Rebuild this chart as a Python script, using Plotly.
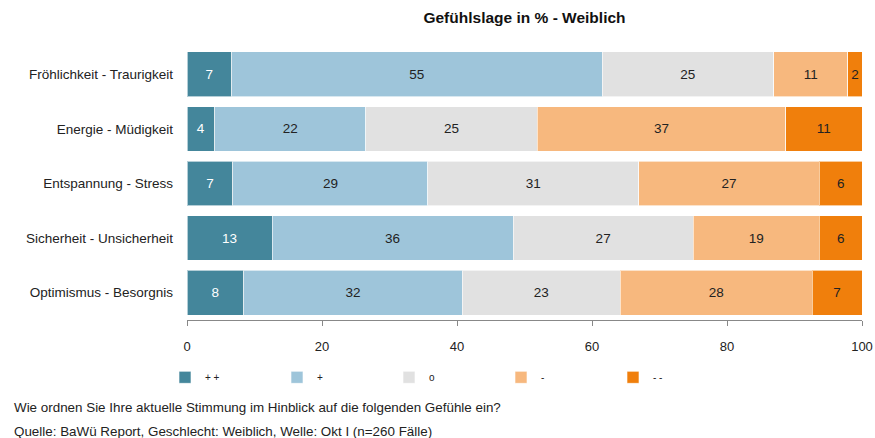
import plotly.graph_objects as go

categories = ["Fröhlichkeit - Traurigkeit", "Energie - Müdigkeit", "Entspannung - Stress",
              "Sicherheit - Unsicherheit", "Optimismus - Besorgnis"]
series_names = ["+ +", "+", "o", "-", "- -"]
v_pp = [6.6, 4.1, 6.8, 12.6, 8.4]
v_p = [54.9, 22.4, 28.9, 35.7, 32.4]
v_o = [25.4, 25.4, 31.2, 26.7, 23.4]
v_m = [11.0, 36.8, 26.8, 18.7, 28.4]
v_mm = [2.1, 11.3, 6.3, 6.3, 7.4]
tick_vals = [0, 20, 40, 60, 80, 100]

colors = ["#44869b", "#9ec5da", "#e1e1e1", "#f7b87e", "#f07f0c"]
text_colors = ["white", "#222222", "#222222", "#222222", "#222222"]

fig = go.Figure()
for name, vals, col, tc in zip(series_names, [v_pp, v_p, v_o, v_m, v_mm], colors, text_colors):
    fig.add_trace(go.Bar(
        y=categories, x=vals, name=name, orientation="h",
        marker=dict(color=col, line=dict(color="rgba(255,255,255,0.6)", width=1)),
        text=[f"{v:.0f}" for v in vals], textposition="inside", insidetextanchor="middle",
        textfont=dict(color=tc, size=13.5, family="Liberation Sans, Arial, sans-serif"),
        hoverinfo="x+y+name",
    ))

fig.update_layout(
    barmode="stack",
    width=875, height=438,
    margin=dict(l=187, r=13, t=47, b=118, autoexpand=False),
    plot_bgcolor="white", paper_bgcolor="white",
    font=dict(family="Liberation Sans, Arial, sans-serif", size=13, color="#222222"),
    bargap=0.18,
    title=dict(text="<b>Gefühlslage in % - Weiblich</b>", x=0.5, xref="paper", xanchor="center",
               y=1 - 18 / 438, yref="container", yanchor="middle",
               font=dict(size=15.5, color="#111111")),
    xaxis=dict(range=[0, 100], tickvals=tick_vals, showgrid=False, zeroline=False,
               showline=True, linecolor="#888888", linewidth=1,
               ticks="outside", ticklen=5, tickcolor="#888888", ticklabelstandoff=9,
               tickfont=dict(size=13, color="#222222")),
    yaxis=dict(categoryorder="array", categoryarray=categories[::-1], showgrid=False,
               ticks="", ticklabelstandoff=13, tickfont=dict(size=13.5, color="#222222")),
    legend=dict(orientation="h", x=(165 - 187) / 675, xanchor="left", y=-0.21, yanchor="middle",
                entrywidth=67, entrywidthmode="pixels", traceorder="normal",
                font=dict(size=10, color="#222222")),
    annotations=[
        dict(text="Wie ordnen Sie Ihre aktuelle Stimmung im Hinblick auf die folgenden Gefühle ein?",
             xref="paper", yref="paper", x=(12 - 187) / 675, y=-0.3187,
             xanchor="left", yanchor="middle", showarrow=False, font=dict(size=13.4, color="#222222")),
        dict(text="Quelle: BaWü Report, Geschlecht: Weiblich, Welle: Okt I (n=260 Fälle)",
             xref="paper", yref="paper", x=(12 - 187) / 675, y=-0.410,
             xanchor="left", yanchor="middle", showarrow=False, font=dict(size=13.4, color="#222222")),
    ],
)

fig.write_html("out.html", config={"displayModeBar": False},
               post_script="document.body.style.margin='0';document.body.style.overflow='hidden';")
